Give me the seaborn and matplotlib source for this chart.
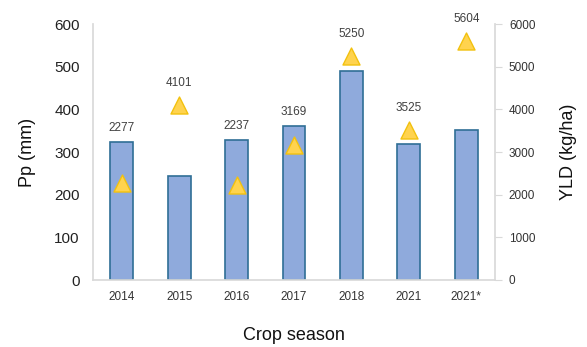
import matplotlib
matplotlib.use("Agg")
import matplotlib.pyplot as plt
import seaborn as sns
import pandas as pd

# Crop seasons, precipitation (bars, left axis) and yield (triangles, right axis)
seasons = ["2014", "2015", "2016", "2017", "2018", "2021", "2021*"]
pp_mm = [324, 244, 328, 362, 490, 319, 352]
yld_kg_ha = [2277, 4101, 2237, 3169, 5250, 3525, 5604]
pp_ticks = [0, 100, 200, 300, 400, 500, 600]
yld_ticks = [0, 1000, 2000, 3000, 4000, 5000, 6000]

df = pd.DataFrame({"season": seasons, "pp": pp_mm, "yld": yld_kg_ha})

sns.set_theme(style="white")
plt.rcParams["font.family"] = ["Liberation Sans", "DejaVu Sans"]

fig = plt.figure(figsize=(5.87, 3.47), dpi=100)
ax = fig.add_axes([93 / 587, 1 - 280 / 347, (495 - 93) / 587, (280 - 24) / 347])

sns.barplot(data=df, x="season", y="pp", ax=ax, color="#8FAADC", width=0.4,
            edgecolor="#2F6E96", linewidth=1.2, saturation=1)
ax.set_ylim(0, 600)
ax.set_yticks(pp_ticks)
ax.tick_params(axis="y", labelsize=11, length=0, colors="#222222", pad=9.5)
ax.tick_params(axis="x", labelsize=8.5, length=0, colors="#333333", pad=8)
ax.set_xlabel("Crop season", fontsize=13, color="#111111", labelpad=17)
ax.set_ylabel("Pp (mm)", fontsize=13, color="#111111", labelpad=13)
for side in ["left", "bottom"]:
    ax.spines[side].set_color("#D9D9D9")
ax.spines["top"].set_visible(False)
ax.spines["right"].set_visible(False)

ax2 = ax.twinx()
sns.scatterplot(data=df, x="season", y="yld", ax=ax2, marker="^", s=150,
                color="#FFD34E", edgecolor="#F2C10F", linewidth=1, zorder=5)
ax2.set_ylim(0, 6000)
ax2.set_yticks(yld_ticks)
ax2.tick_params(axis="y", labelsize=8.5, length=5, width=0.8, color="#D9D9D9",
                colors="#333333", pad=5, direction="out")
ax2.tick_params(axis="y", color="#D9D9D9")
ax2.set_ylabel("YLD (kg/ha)", fontsize=13, color="#111111", labelpad=18)
for side in ["top", "left", "bottom"]:
    ax2.spines[side].set_visible(False)
ax2.spines["right"].set_color("#D9D9D9")

# Yield labels sit above whichever is higher: the bar top or the triangle top
tri_half = 190
for i, (p, y) in enumerate(zip(pp_mm, yld_kg_ha)):
    anchor = max(p * 10, y + tri_half)
    ax2.annotate(f"{y}", xy=(i, anchor), xytext=(0, 10), textcoords="offset points",
                 ha="center", va="center", fontsize=8.5, color="#404040")

ax.set_xlim(-0.5, len(seasons) - 0.5)
fig.savefig("out.png", dpi=100)
